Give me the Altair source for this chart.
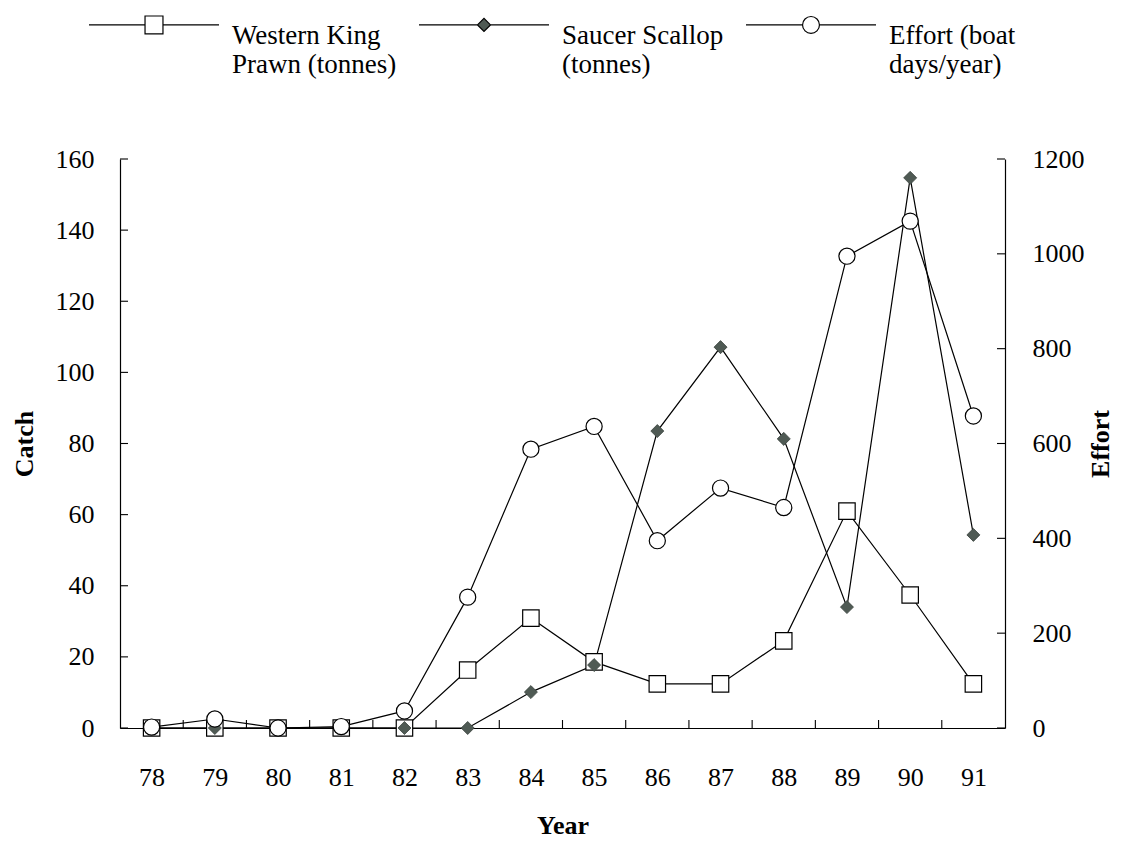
import altair as alt
import pandas as pd

# ---- data ----
years = [78, 79, 80, 81, 82, 83, 84, 85, 86, 87, 88, 89, 90, 91]
prawn = [0, 0, 0, 0, 0, 16.3, 30.9, 18.6, 12.4, 12.4, 24.5, 61.0, 37.4, 12.4]
scallop = [0, 0, 0, 0, 0, 0, 10.1, 17.7, 83.5, 107.1, 81.3, 34.0, 154.7, 54.3]
effort = [2, 19, 0, 3, 36, 276, 588, 636, 395, 506, 465, 995, 1069, 658]

series_names = ["Western King|Prawn (tonnes)", "Saucer Scallop|(tonnes)", "Effort (boat|days/year)"]
catch_ticks = [0, 20, 40, 60, 80, 100, 120, 140, 160]
effort_ticks = [0, 200, 400, 600, 800, 1000, 1200]
year_tick_marks = [78.5, 79.5, 80.5, 81.5, 82.5, 83.5, 84.5, 85.5, 86.5, 87.5, 88.5, 89.5, 90.5]

df = pd.DataFrame({"year": years, "prawn": prawn, "scallop": scallop, "effort": effort})
df_ct = pd.DataFrame({"prawn": catch_ticks})
df_et = pd.DataFrame({"effort": effort_ticks})
df_yt = pd.DataFrame({"year": year_tick_marks})
df_leg = pd.DataFrame({"series": series_names})

W, H = 885, 569
FONT = "Liberation Serif"
DIAMOND = "#4f5a54"

# legend symbols: line with marker in the middle (shifted up to sit on first label line)
OFF = -0.17
def fmt(v):
    return f"{v:.4f}".rstrip("0").rstrip(".")
def line_parts(h):
    return f"M-1,{fmt(OFF)}H{fmt(-h)}M{fmt(h)},{fmt(OFF)}H1"
sq_h = 0.138
path_sq = line_parts(sq_h) + f"M{fmt(-sq_h)},{fmt(OFF - sq_h)}H{fmt(sq_h)}V{fmt(OFF + sq_h)}H{fmt(-sq_h)}Z"
di_h = 0.1
path_di = line_parts(di_h) + f"M{fmt(-di_h)},{fmt(OFF)}L0,{fmt(OFF - di_h)}L{fmt(di_h)},{fmt(OFF)}L0,{fmt(OFF + di_h)}Z"
r = 0.13
k = 0.5523 * r
path_ci = line_parts(r) + (
    f"M{fmt(r)},{fmt(OFF)}"
    f"C{fmt(r)},{fmt(OFF + k)},{fmt(k)},{fmt(OFF + r)},0,{fmt(OFF + r)}"
    f"C{fmt(-k)},{fmt(OFF + r)},{fmt(-r)},{fmt(OFF + k)},{fmt(-r)},{fmt(OFF)}"
    f"C{fmt(-r)},{fmt(OFF - k)},{fmt(-k)},{fmt(OFF - r)},0,{fmt(OFF - r)}"
    f"C{fmt(k)},{fmt(OFF - r)},{fmt(r)},{fmt(OFF - k)},{fmt(r)},{fmt(OFF)}Z"
)

x_enc = alt.X(
    "year:Q",
    scale=alt.Scale(domain=[77.5, 91.5], nice=False, zero=False),
    axis=alt.Axis(values=years, format="d", title="Year", ticks=False, grid=False,
                  labelPadding=36, titlePadding=22, labelFlush=False),
)

left_axis = alt.Axis(values=catch_ticks, format="d", title="Catch", ticks=False, grid=False,
                     labelPadding=26, titlePadding=18)
right_axis = alt.Axis(orient="right", values=effort_ticks, format="d", title="Effort", ticks=False,
                      grid=False, labelPadding=27, titlePadding=3, titleAngle=270, titleBaseline="top")

def y_catch(field):
    return alt.Y(f"{field}:Q", scale=alt.Scale(domain=[0, 160], nice=False), axis=left_axis)

def y_effort(field):
    return alt.Y(f"{field}:Q", scale=alt.Scale(domain=[0, 1200], nice=False), axis=right_axis)

base = alt.Chart(df)

prawn_line = base.mark_line(color="black", strokeWidth=1.2).encode(x=x_enc, y=y_catch("prawn"))
scallop_line = base.mark_line(color="black", strokeWidth=1.2).encode(x=x_enc, y=y_catch("scallop"))
left_ticks = alt.Chart(df_ct).mark_rule(color="black", strokeWidth=1.1).encode(
    y=y_catch("prawn"), x=alt.value(0), x2=alt.value(8))
x_ticks = alt.Chart(df_yt).mark_rule(color="black", strokeWidth=1.1).encode(
    x=x_enc, y=alt.value(H - 8), y2=alt.value(H))
prawn_pts = base.mark_point(shape="square", size=270, filled=True, fill="white",
                            stroke="black", strokeWidth=1.2, opacity=1).encode(x=x_enc, y=y_catch("prawn"))
scallop_pts = base.mark_point(shape="diamond", size=170, filled=True, fill=DIAMOND,
                              stroke="#3a423d", strokeWidth=0.8, opacity=1).encode(x=x_enc, y=y_catch("scallop"))

leg = alt.Legend(
    orient="none", legendX=-32, legendY=-189, direction="horizontal", title=None,
    symbolSize=16900, symbolStrokeColor="black", symbolStrokeWidth=1.2, symbolOpacity=1,
    labelOffset=12, columnPadding=19, padding=0,
    labelFont=FONT, labelFontSize=27, labelColor="black", labelLimit=500,
    labelExpr="split(datum.label, '|')",
)
legend_layer = alt.Chart(df_leg).mark_point(opacity=0, filled=True, strokeWidth=1.2).encode(
    shape=alt.Shape("series:N", scale=alt.Scale(domain=series_names, range=[path_sq, path_di, path_ci]),
                    legend=leg, sort=series_names),
    fill=alt.Fill("series:N", scale=alt.Scale(domain=series_names, range=["white", DIAMOND, "white"]),
                  legend=leg, sort=series_names),
    stroke=alt.Stroke("series:N", scale=alt.Scale(domain=series_names, range=["black", "black", "black"]),
                      legend=leg, sort=series_names),
)

left = alt.layer(prawn_line, scallop_line, left_ticks, x_ticks, prawn_pts, scallop_pts, legend_layer)

effort_line = base.mark_line(color="black", strokeWidth=1.2).encode(x=x_enc, y=y_effort("effort"))
right_ticks = alt.Chart(df_et).mark_rule(color="black", strokeWidth=1.1).encode(
    y=y_effort("effort"), x=alt.value(W - 8), x2=alt.value(W))
effort_pts = base.mark_point(shape="circle", size=260, filled=True, fill="white",
                             stroke="black", strokeWidth=1.2, opacity=1).encode(x=x_enc, y=y_effort("effort"))
right = alt.layer(effort_line, right_ticks, effort_pts)

chart = alt.layer(left, right).resolve_scale(y="independent").properties(
    width=W, height=H,
    autosize=alt.AutoSizeParams(type="none"),
    padding={"left": 120, "top": 159, "right": 121, "bottom": 113},
    background="white",
).configure_view(stroke=None).configure_axis(
    labelFont=FONT, labelFontSize=26, labelColor="black",
    titleFont=FONT, titleFontSize=26, titleFontWeight="bold", titleColor="black",
    domainColor="black", domainWidth=1.2,
)

chart.save("out.html", embed_options={"renderer": "svg", "actions": False})
